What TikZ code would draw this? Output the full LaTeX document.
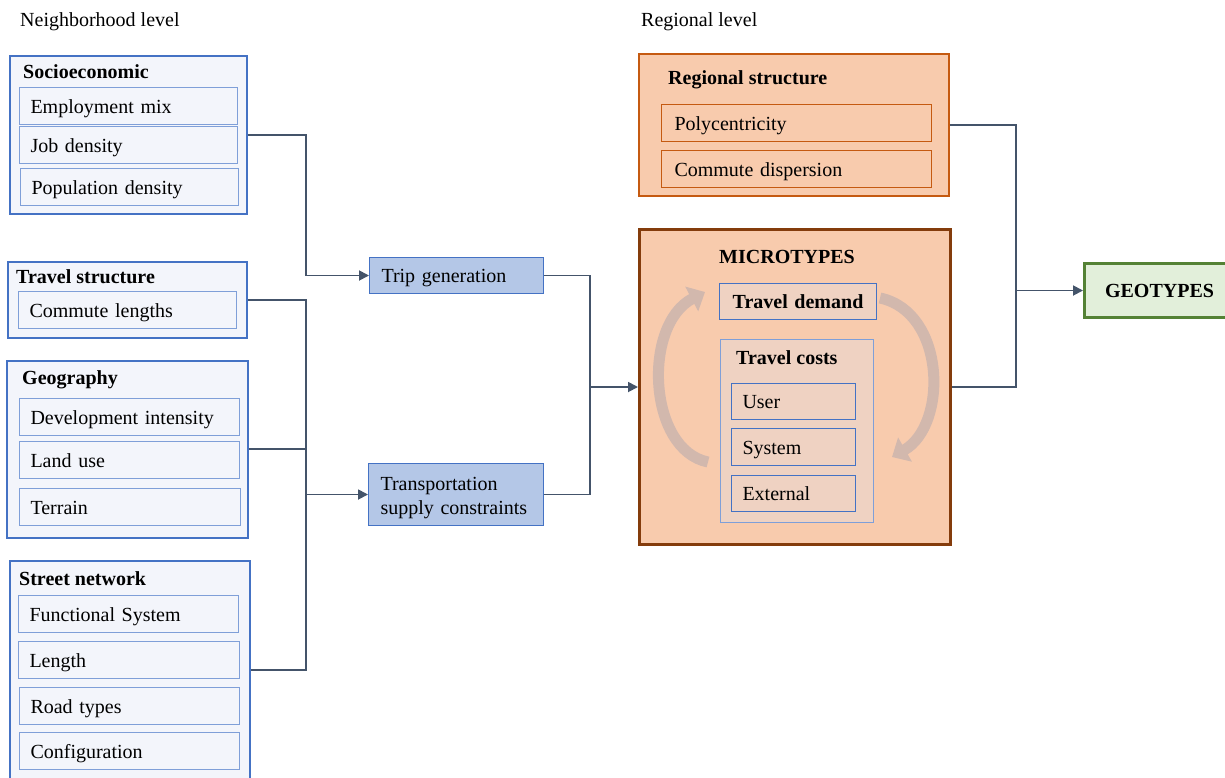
\documentclass[tikz,border=0pt]{standalone}
\usepackage{fontspec}
\setmainfont{Liberation Serif}
\usetikzlibrary{arrows.meta}

\definecolor{boxblue}{HTML}{4472C4}
\definecolor{itemblue}{HTML}{7F9FD8}
\definecolor{paleblue}{HTML}{F3F5FB}
\definecolor{tripblue}{HTML}{B4C7E7}
\definecolor{linkgray}{HTML}{44546A}
\definecolor{peach}{HTML}{F8CBAD}
\definecolor{palepeach}{HTML}{EFD2C2}
\definecolor{rust}{HTML}{C55A11}
\definecolor{darkrust}{HTML}{843C0C}
\definecolor{geogreen}{HTML}{548235}
\definecolor{palegreen}{HTML}{E2EFDA}
\definecolor{loopgray}{HTML}{D2B8AD}

\begin{document}
\begin{tikzpicture}[x=1pt,y=-1pt,font=\fontsize{20}{24}\selectfont,
    >={Triangle[length=10pt,width=10pt]},
    group/.style={draw=boxblue,fill=paleblue,line width=1.6pt,anchor=north west},
    item/.style={draw=itemblue,fill=paleblue,line width=1pt,anchor=north west,
        minimum height=37pt,inner xsep=11pt,text width=196pt,align=left,
        text height=17pt,text depth=3pt},
    title/.style={anchor=west,inner sep=0pt,font=\fontsize{20}{24}\selectfont\bfseries},
    proc/.style={draw=boxblue,fill=tripblue,line width=1pt,anchor=north west,
        inner xsep=12pt,align=left,text height=17pt},
    region/.style={draw=rust,fill=peach,line width=1.6pt,anchor=north west},
    ritem/.style={draw=rust,fill=peach,line width=1pt,anchor=north west,
        minimum height=37pt,inner xsep=13pt,text width=244pt,align=left,
        text height=17pt,text depth=3pt},
    citem/.style={draw=boxblue,fill=palepeach,line width=1pt,anchor=north west,
        minimum height=36pt,inner xsep=11pt,text width=102pt,align=left,
        text height=17pt,text depth=3pt},
    link/.style={draw=linkgray,line width=1.8pt},
    loop/.style={draw=loopgray,line width=11pt,-{Triangle[length=15pt,width=27pt]}}]

    \useasboundingbox (0,0) rectangle (1225,777);

    % headings
    \node[anchor=west,inner sep=0pt] (nlevel) at (20,22) {Neighborhood level};
    \node[anchor=west,inner sep=0pt] (rlevel) at (641,22) {Regional level};

    % neighborhood groups
    \node[group,minimum width=237pt,minimum height=158pt] (socio) at (9,55) {};
    \node[title] at (23,72) {Socioeconomic};
    \node[item] (emp) at (19,87) {Employment mix};
    \node[item] (job) at (19,126) {Job density};
    \node[item] (pop) at (20,168) {Population density};

    \node[group,minimum width=239pt,minimum height=76pt] (travel) at (7,261) {};
    \node[title] at (16,277) {Travel structure};
    \node[item] (commute) at (18,291) {Commute lengths};

    \node[group,minimum width=241pt,minimum height=177pt] (geo) at (6,360) {};
    \node[title] at (22,380) {Geography};
    \node[item,text width=198pt] (dev) at (19,398) {Development intensity};
    \node[item,text width=198pt] (land) at (19,441) {Land use};
    \node[item,text width=199pt] (terrain) at (19,488) {Terrain};

    \node[group,minimum width=240pt,minimum height=218pt] (street) at (9,560) {};
    \node[title] at (19,579) {Street network};
    \node[item,text width=198pt] (func) at (18,595) {Functional System};
    \node[item,text width=199pt] (len) at (18,641) {Length};
    \node[item,text width=198pt] (road) at (19,687) {Road types};
    \node[item,text width=198pt] (config) at (19,732) {Configuration};

    % middle steps
    \node[proc,text width=150pt,minimum height=36pt,text depth=3pt] (trip) at (369,257) {Trip generation};
    \node[proc,text width=151pt,minimum height=62pt,text depth=26pt] (supply) at (368,463) {Transportation\\supply constraints};

    % regional level
    \node[region,minimum width=310pt,minimum height=142pt] (regional) at (638,53) {};
    \node[title] at (668,80) {Regional structure};
    \node[ritem] (poly) at (661,104) {Polycentricity};
    \node[ritem] (disp) at (661,150) {Commute dispersion};

    \node[region,draw=darkrust,line width=3pt,minimum width=311pt,minimum height=315pt] (micro) at (638,228) {};
    \node[inner sep=0pt,font=\fontsize{20}{24}\selectfont\bfseries] (microtitle) at (787,257) {MICROTYPES};
    \node[citem,text width=135pt,align=center,font=\fontsize{20}{24}\selectfont\bfseries] (demand) at (719,283) {Travel demand};
    \node[draw=itemblue,fill=palepeach,line width=1pt,anchor=north west,minimum width=153pt,minimum height=183pt] (costs) at (720,339) {};
    \node[title] at (736,358) {Travel costs};
    \node[citem] (user) at (731,383) {User};
    \node[citem,minimum height=37pt] (system) at (731,428) {System};
    \node[citem] (external) at (731,475) {External};

    \node[draw=geogreen,fill=palegreen,line width=3pt,anchor=north west,minimum width=150pt,minimum height=54pt,
        font=\fontsize{20}{24}\selectfont\bfseries] (geotypes) at (1083,262) {GEOTYPES};

    % feedback loop
    \draw[loop] (708,462) .. controls (648,450) and (642,325) .. (705,292);
    \draw[loop] (880,298) .. controls (946,312) and (948,425) .. (892,457);

    % connectors
    \coordinate (busL) at (306,0);
    \coordinate (busM) at (590,0);
    \coordinate (busR) at (1016,0);

    \draw[link,->] (socio.east) -| (busL |- trip.west) -- (trip.west);
    \draw[link] (travel.east) -| (busL |- street.east) -- (street.east);
    \draw[link] (geo.east) -- (geo.east -| busL);
    \draw[link,->] (busL |- supply.west) -- (supply.west);

    \draw[link] (trip.east) -| (busM |- micro.west) |- (supply.east);
    \draw[link,->] (busM |- micro.west) -- (micro.west);

    \draw[link] (regional.east) -| (busR |- geotypes.west) |- (micro.east);
    \draw[link,->] (busR |- geotypes.west) -- (geotypes.west);
\end{tikzpicture}
\end{document}
